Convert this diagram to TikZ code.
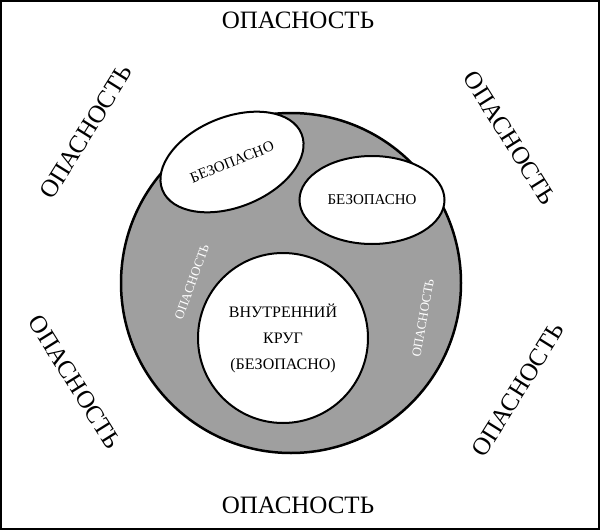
\documentclass[tikz,border=0pt]{standalone}
\usepackage{fontspec}
\usetikzlibrary{shapes.geometric}
\setmainfont{Liberation Serif}
\begin{document}
\begin{tikzpicture}[x=1pt,y=-1pt,
  big/.style={font=\fontsize{25}{27}\selectfont},
  small/.style={font=\fontsize{13}{15}\selectfont, text=white},
  safe/.style={draw=black, line width=2pt, fill=white}]
\draw[line width=1.5pt, fill=white] (1,1) rectangle (599,529);
\useasboundingbox (0,0) rectangle (600,530);
\filldraw[fill=gray!75, draw=black, line width=2.5pt] (291,283) circle (170);
\node[safe, ellipse, minimum width=150, minimum height=90, rotate=22] (e1) at (232,162) {};
\node[rotate=22, font=\fontsize{15}{17}\selectfont] (t1) at (e1) {БЕЗОПАСНО};
\node[safe, ellipse, minimum width=145, minimum height=88] (e2) at (372,200) {};
\node[font=\fontsize{15}{17}\selectfont] (t2) at (e2) {БЕЗОПАСНО};
\node[safe, circle, minimum size=170] (c) at (283,338) {};
\node[align=center, font=\fontsize{16}{26}\selectfont] (tc) at (c) {ВНУТРЕННИЙ\\КРУГ\\(БЕЗОПАСНО)};
\node[small, rotate=70] (s1) at (192,282) {ОПАСНОСТЬ};
\node[small, rotate=80] (s2) at (423,318) {ОПАСНОСТЬ};
\node[big] (b1) at (298,20) {ОПАСНОСТЬ};
\node[big] (b2) at (298,505) {ОПАСНОСТЬ};
\node[big, rotate=58] (b3) at (86,132) {ОПАСНОСТЬ};
\node[big, rotate=-58] (b4) at (510,138) {ОПАСНОСТЬ};
\node[big, rotate=-58] (b5) at (75,382) {ОПАСНОСТЬ};
\node[big, rotate=58] (b6) at (518,390) {ОПАСНОСТЬ};
\end{tikzpicture}
\end{document}
